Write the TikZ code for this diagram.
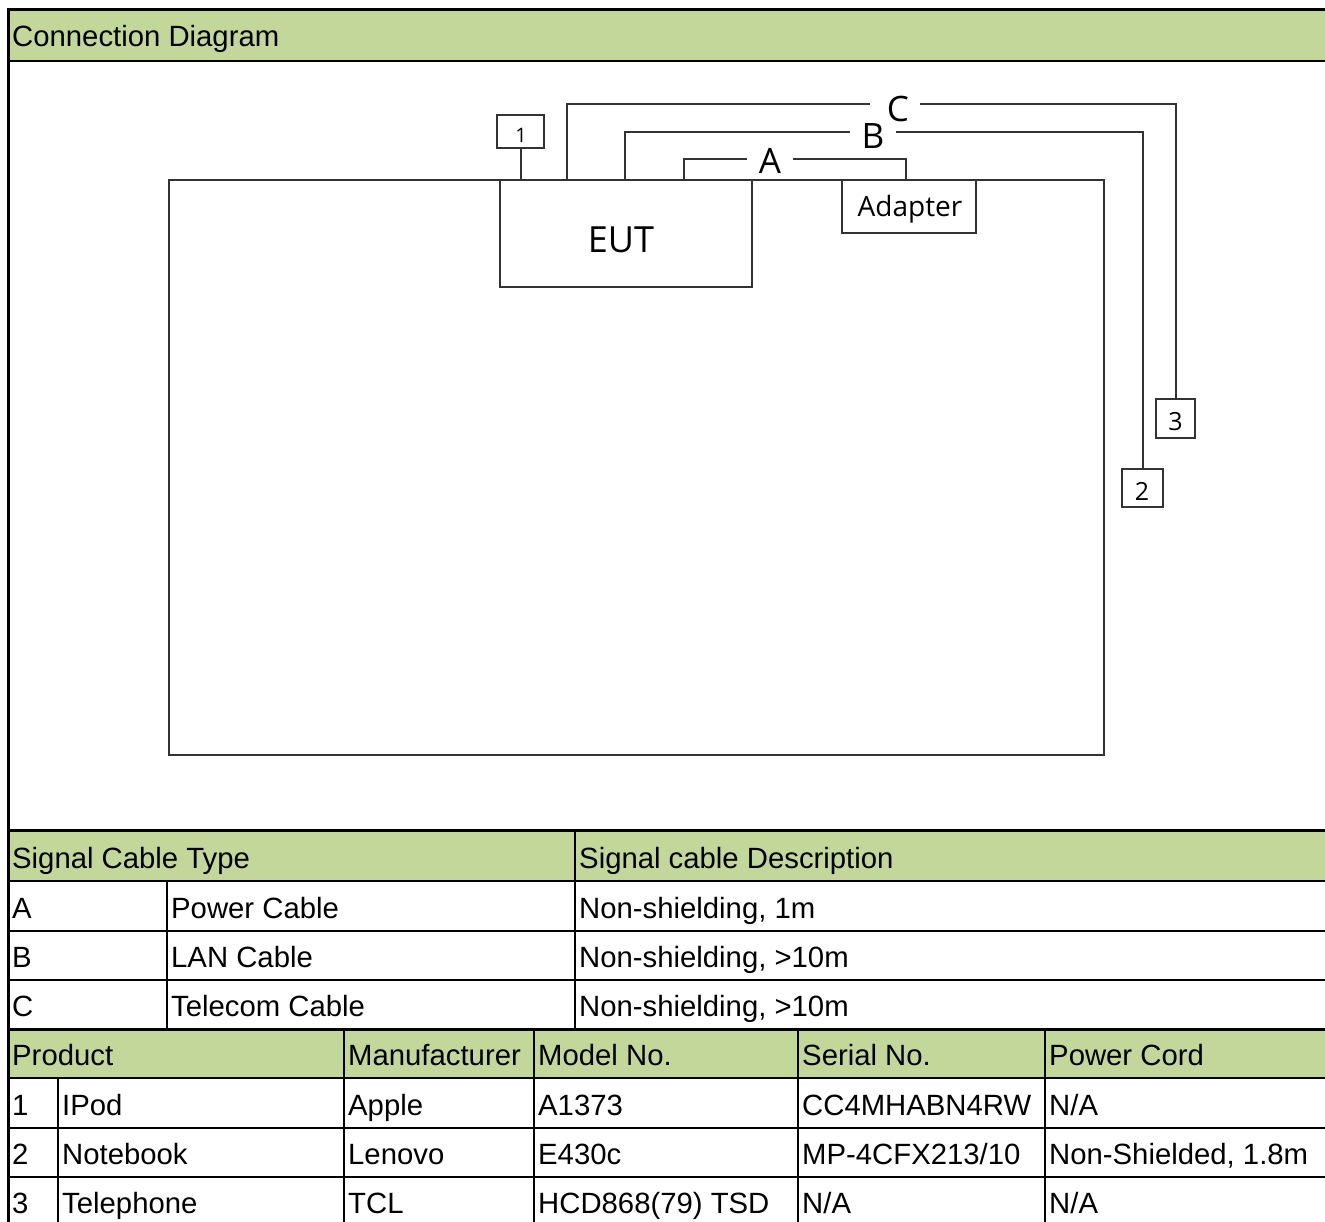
\documentclass[tikz,border=0pt]{standalone}
\usepackage{fontspec}
\setmainfont{Liberation Sans}
\newfontfamily\dgfont{Open Sans}
\definecolor{hdrgreen}{RGB}{196,215,155}
\definecolor{dline}{RGB}{51,51,51}
\newcommand\tabfont{\fontsize{29.3}{35}\selectfont}
\tikzset{
  cell/.style={anchor=base west, inner sep=0pt, font=\tabfont},
  thickrule/.style={line width=3pt, black},
  thinrule/.style={line width=2pt, black},
  dbox/.style={draw=dline, line width=2pt, inner sep=0pt, fill=white},
  cable/.style={draw=dline, line width=2pt},
  clabel/.style={inner sep=0pt, font=\dgfont\fontsize{35}{40}\selectfont},
  numlbl/.style={inner sep=0pt, font=\dgfont\fontsize{25}{28}\selectfont},
}
\begin{document}
\begin{tikzpicture}[x=1pt,y=-1pt]
\useasboundingbox (0,0) rectangle (1325,1222);
\fill[white] (0,0) rectangle (1325,1222);
% green header bands
\fill[hdrgreen] (10,11) rectangle (1325,60);
\fill[hdrgreen] (10,832) rectangle (1325,880);
\fill[hdrgreen] (10,1030) rectangle (1325,1077);
% outer frame
\draw[line width=3.5pt] (1325,9.5) -- (6.75,9.5);
\draw[line width=3.5pt] (8.5,7.75) -- (8.5,1222);
\draw[line width=2.5pt] (8.5,61) -- (1325,61);
% signal table rules
\draw[thickrule] (8.5,830.5) -- (1325,830.5);
\draw[thinrule] (8.5,881) -- (1325,881);
\draw[thinrule] (8.5,931) -- (1325,931);
\draw[thinrule] (8.5,980) -- (1325,980);
\draw[thickrule] (8.5,1029) -- (1325,1029);
\draw[thinrule] (167,881) -- (167,1029);
\draw[thinrule] (575,830.5) -- (575,1029);
% product table rules
\draw[thinrule] (8.5,1078) -- (1325,1078);
\draw[thinrule] (8.5,1128) -- (1325,1128);
\draw[thinrule] (8.5,1177) -- (1325,1177);
\draw[thinrule] (58,1078) -- (58,1222);
\draw[thinrule] (344,1029) -- (344,1222);
\draw[thinrule] (534,1029) -- (534,1222);
\draw[thinrule] (798,1029) -- (798,1222);
\draw[thinrule] (1045,1029) -- (1045,1222);
% header text
\node[cell] (title) at (12,47) {Connection Diagram};
% signal table text
\node[cell] (sth) at (12,868) {Signal Cable Type};
\node[cell] (sdh) at (579,868) {Signal cable Description};
\node[cell] (sa) at (12,918) {A};
\node[cell] (san) at (171,918) {Power Cable};
\node[cell] (sad) at (579,918) {Non-shielding, 1m};
\node[cell] (sb) at (12,967) {B};
\node[cell] (sbn) at (171,967) {LAN Cable};
\node[cell] (sbd) at (579,967) {Non-shielding, >10m};
\node[cell] (sc) at (12,1016) {C};
\node[cell] (scn) at (171,1016) {Telecom Cable};
\node[cell] (scd) at (579,1016) {Non-shielding, >10m};
% product table text
\node[cell] (ph1) at (12,1065) {Product};
\node[cell] (ph2) at (348,1065) {Manufacturer};
\node[cell] (ph3) at (538,1065) {Model No.};
\node[cell] (ph4) at (802,1065) {Serial No.};
\node[cell] (ph5) at (1049,1065) {Power Cord};
\node[cell] (p1a) at (12,1115) {1};
\node[cell] (p1b) at (62,1115) {IPod};
\node[cell] (p1c) at (348,1115) {Apple};
\node[cell] (p1d) at (538,1115) {A1373};
\node[cell] (p1e) at (802,1115) {CC4MHABN4RW};
\node[cell] (p1f) at (1049,1115) {N/A};
\node[cell] (p2a) at (12,1164) {2};
\node[cell] (p2b) at (62,1164) {Notebook};
\node[cell] (p2c) at (348,1164) {Lenovo};
\node[cell] (p2d) at (538,1164) {E430c};
\node[cell] (p2e) at (802,1164) {MP-4CFX213/10};
\node[cell] (p2f) at (1049,1164) {Non-Shielded, 1.8m};
\node[cell] (p3a) at (12,1213) {3};
\node[cell] (p3b) at (62,1213) {Telephone};
\node[cell] (p3c) at (348,1213) {TCL};
\node[cell] (p3d) at (538,1213) {HCD868(79) TSD};
\node[cell] (p3e) at (802,1213) {N/A};
\node[cell] (p3f) at (1049,1213) {N/A};
% diagram
\node[dbox, minimum width=935pt, minimum height=575pt] (tbl) at (636.5,467.5) {};
\node[dbox, minimum width=252pt, minimum height=107pt] (eut) at (626,233.5) {};
\node[inner sep=0pt, font=\dgfont\fontsize{36}{40}\selectfont] (eutlbl) at (621,240) {EUT};
\node[dbox, minimum width=134pt, minimum height=53pt] (adp) at (909,206.5) {};
\node[inner sep=0pt, font=\dgfont\fontsize{28}{32}\selectfont] (adplbl) at (910,209) {Adapter};
\node[dbox, minimum width=47pt, minimum height=33pt] (b1) at (520.5,131.5) {};
\node[inner sep=0pt, font=\dgfont\fontsize{20}{24}\selectfont] (b1lbl) at (521,135.5) {1};
\node[dbox, minimum width=39pt, minimum height=39pt] (b3) at (1175.5,418.5) {};
\node[numlbl] (b3lbl) at (1175.5,422) {3};
\node[dbox, minimum width=41pt, minimum height=38pt] (b2) at (1142.5,488) {};
\node[numlbl] (b2lbl) at (1142,491) {2};
\node[clabel] (lC) at (898,109) {C};
\node[clabel] (lB) at (873,136) {B};
\node[clabel] (lA) at (770,161) {A};
\coordinate (c1) at (b1.south |- eut.north);
\coordinate (cC0) at (567,180);
\coordinate (cCl) at (870,104);
\coordinate (cCr) at (920,104);
\coordinate (cB0) at (625,180);
\coordinate (cBl) at (850,132);
\coordinate (cBr) at (896,132);
\coordinate (cA0) at (684,180);
\coordinate (cAl) at (747,159);
\coordinate (cAr) at (793,159);
\coordinate (cA1) at (906,180);
\draw[cable] (b1.south) -- (c1);
\draw[cable] (cC0) |- (cCl);
\draw[cable] (cCr) -| (b3.north);
\draw[cable] (cB0) |- (cBl);
\draw[cable] (cBr) -| (b2.north);
\draw[cable] (cA0) |- (cAl);
\draw[cable] (cAr) -| (cA1);
\end{tikzpicture}
\end{document}
